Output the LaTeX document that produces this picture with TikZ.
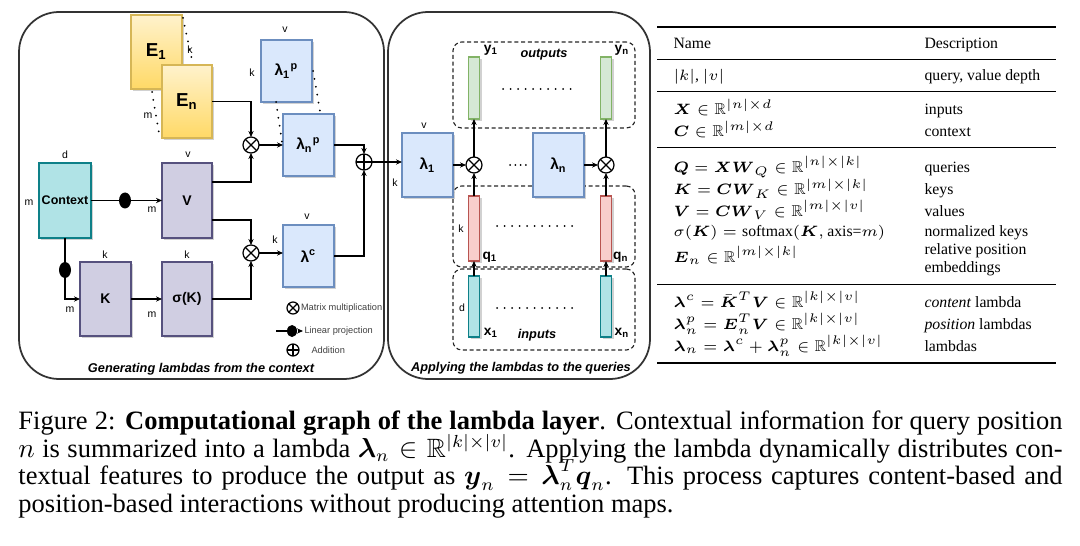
\documentclass[tikz,border=0pt]{standalone}
\usepackage{amsmath,amssymb}
\usepackage{fontspec}
\setmainfont{Liberation Serif}
\newfontfamily\arial{Liberation Sans}
\usetikzlibrary{arrows.meta,shadows,shapes.geometric}
\newcommand\pu{0.4pt}
\definecolor{eyl}{HTML}{FFF2CC}
\definecolor{eyd}{HTML}{FFD966}
\definecolor{eyb}{HTML}{D6B656}
\definecolor{lbf}{HTML}{DAE8FC}
\definecolor{lbd}{HTML}{6C8EBF}
\definecolor{ppf}{HTML}{D0CEE2}
\definecolor{ppd}{HTML}{56517E}
\definecolor{tlf}{HTML}{B0E3E6}
\definecolor{tld}{HTML}{0E8088}
\definecolor{grf}{HTML}{D5E8D4}
\definecolor{grd}{HTML}{82B366}
\definecolor{rdf}{HTML}{F8CECC}
\definecolor{rdd}{HTML}{B85450}
\definecolor{pnl}{HTML}{333333}
\begin{document}
\begin{tikzpicture}[x=0.4pt,y=-0.4pt,
  base/.style={draw, inner sep=0pt, outer sep=0pt, line width=0.45pt},
  shadowed/.style={drop shadow={shadow xshift=0.9pt,shadow yshift=-0.9pt,opacity=0.18,fill=black}},
  ebox/.style={base, shadowed, draw=eyb, top color=eyl, bottom color=eyd, font=\arial\bfseries\fontsize{7.5}{8}\selectfont},
  lbox/.style={base, shadowed, draw=lbd, fill=lbf, font=\arial\bfseries\fontsize{6.2}{7}\selectfont},
  pbox/.style={base, shadowed, draw=ppd, fill=ppf, font=\arial\bfseries\fontsize{5.6}{7}\selectfont},
  cbox/.style={base, shadowed, draw=tld, fill=tlf, font=\arial\bfseries\fontsize{5}{6}\selectfont},
  bar/.style={base, shadowed, minimum width=11*\pu},
  ybar/.style={bar, draw=grd, fill=grf},
  qbar/.style={bar, draw=rdd, fill=rdf},
  xbar/.style={bar, draw=tld, fill=tlf},
  conn/.style={line width=0.5pt, -{Stealth[length=2.4pt,width=2.1pt]}},
  lbl/.style={font=\arial\fontsize{4.2}{5}\selectfont, inner sep=0pt},
  blbl/.style={font=\arial\bfseries\fontsize{5.5}{6}\selectfont, inner sep=0pt},
  bilbl/.style={font=\arial\bfseries\itshape\fontsize{5.1}{6}\selectfont, inner sep=0pt},
  legtxt/.style={font=\arial\fontsize{3.7}{4.5}\selectfont, text=black!75, inner sep=0pt},
  dotln/.style={line width=0.8pt, line cap=round, dash pattern=on 0pt off 3.2pt},
  projdot/.style={ellipse, fill=black, inner sep=0pt, minimum width=12*\pu, minimum height=16*\pu},
  otimes/.style={circle, draw, line width=0.5pt, inner sep=0pt, outer sep=0pt, minimum size=16*\pu,
    path picture={\draw[line width=0.5pt] (path picture bounding box.north west)--(path picture bounding box.south east)
      (path picture bounding box.north east)--(path picture bounding box.south west);}},
  oplus/.style={circle, draw, line width=0.5pt, inner sep=0pt, outer sep=0pt, minimum size=16*\pu,
    path picture={\draw[line width=0.5pt] (path picture bounding box.north)--(path picture bounding box.south)
      (path picture bounding box.east)--(path picture bounding box.west);}},
  panel/.style={draw=pnl, line width=0.7pt, rounded corners=16pt, inner sep=0pt},
  dbox/.style={draw=black!85, line width=0.45pt, dash pattern=on 1.6pt off 1.1pt, rounded corners=3.5pt, inner sep=0pt},
  tbl/.style={font=\fontsize{6.3}{7.5}\selectfont, inner sep=0pt, anchor=base west},
  captxt/.style={font=\fontsize{10.6}{12}\selectfont, inner sep=0pt, anchor=base west}
]
\useasboundingbox (0,0) rectangle (1080,546);

% panels
\node[panel, minimum width=365*\pu, minimum height=367*\pu] (lpanel) at (201.5,195.5) {};
\node[panel, minimum width=262*\pu, minimum height=367*\pu] (mpanel) at (519,195.5) {};

% ---------------- left panel ----------------
\node[ebox, minimum width=51*\pu, minimum height=74*\pu] (E1) at (156.5,52) {E\textsubscript{1}};
\node[ebox, minimum width=50*\pu, minimum height=73*\pu] (En) at (187,101.5) {E\textsubscript{n}};
\coordinate (ed1) at (183,18); \coordinate (ed2) at (192,60);
\coordinate (ed3) at (152,92); \coordinate (ed4) at (159,133);
\draw[dotln] (ed1) -- (ed2);
\draw[dotln] (ed3) -- (ed4);
\node[lbl] (lk0) at (190,50) {k};
\node[lbl] (lm0) at (148,116) {m};

\node[lbox, minimum width=51*\pu, minimum height=62*\pu] (L1p) at (286.5,71) {λ\textsubscript{1}\textsuperscript{p}};
\node[lbox, minimum width=51*\pu, minimum height=62*\pu] (Lnp) at (308.5,145) {λ\textsubscript{n}\textsuperscript{p}};
\coordinate (ld1) at (313,71); \coordinate (ld2) at (320,111);
\coordinate (ld3) at (276,102); \coordinate (ld4) at (282,142);
\draw[dotln] (ld1) -- (ld2);
\draw[dotln] (ld3) -- (ld4);
\node[lbl] (lv1) at (285,30) {v};
\node[lbl] (lk1) at (252,73) {k};

\node[cbox, minimum width=52*\pu, minimum height=75*\pu] (Ctx) at (65,200.5) {Context};
\node[lbl] (ld) at (65,155) {d};
\node[lbl] (lmc) at (29,203) {m};
\node[pbox, minimum width=50*\pu, minimum height=75*\pu] (V) at (187,200.5) {V};
\node[lbl] (lvv) at (188,155) {v};
\node[lbl] (lmv) at (152,210) {m};
\node[pbox, minimum width=51*\pu, minimum height=74*\pu] (K) at (105.5,299) {K};
\node[lbl] (lkk) at (105,255) {k};
\node[lbl] (lmk) at (70,310) {m};
\node[pbox, minimum width=50*\pu, minimum height=74*\pu] (SK) at (187,299) {σ(K)};
\node[lbl] (lks) at (187,255) {k};
\node[lbl] (lms) at (152,315) {m};
\node[lbox, minimum width=51*\pu, minimum height=62*\pu] (Lc) at (308.5,256) {λ\textsuperscript{c}};
\node[lbl] (lvc) at (307,217) {v};
\node[lbl] (lkc) at (275,240) {k};

\node[otimes] (ot1) at (251,145) {};
\node[otimes] (ot2) at (251,253) {};
\node[oplus] (opl) at (364,162) {};

\coordinate (h182) at (0,182);
\coordinate (h220) at (0,220);
\draw[conn] (Ctx) -- (V);
\draw[conn] (Ctx.south) |- (K.west);
\node[projdot] (pd1) at (125,200.5) {};
\node[projdot] (pd2) at (65,270) {};
\draw[conn] (K) -- (SK);
\draw[conn] (En.east) -| (ot1.north);
\draw[conn] (V.east |- h182) -| (ot1.south);
\draw[conn] (V.east |- h220) -| (ot2.north);
\draw[conn] (SK.east) -| (ot2.south);
\draw[conn] (ot1) -- (Lnp);
\draw[conn] (ot2.east) -- (ot2.east -| Lc.west);
\draw[conn] (Lnp.east) -| (opl.north);
\draw[conn] (Lc.east) -| (opl.south);

% legend
\node[otimes, minimum size=12*\pu] (lg1) at (293,308) {};
\node[legtxt, anchor=west] (lg1t) at (300.5,308) {Matrix multiplication};
\coordinate (lgA) at (276,331);
\coordinate (lgB) at (303,331);
\node[projdot, minimum width=10*\pu, minimum height=12*\pu] (lg2) at (292,331) {};
\draw[line width=0.5pt] (lgA) -- (lg2);
\draw[conn] (lg2) -- (lgB);
\node[legtxt, anchor=west] (lg2t) at (304,331) {Linear projection};
\node[oplus, minimum size=12*\pu] (lg3) at (293,350) {};
\node[legtxt, anchor=west] (lg3t) at (311,350) {Addition};

\node[bilbl] (capL) at (201,369) {Generating lambdas from the context};

% ---------------- middle panel ----------------
\node[dbox, minimum width=182*\pu, minimum height=86*\pu] (outbox) at (544,85) {};
\node[dbox, minimum width=182*\pu, minimum height=81*\pu] (qbox) at (544,226.5) {};
\node[dbox, minimum width=182*\pu, minimum height=81*\pu] (inbox) at (544,309.5) {};

\node[lbox, minimum width=51*\pu, minimum height=64*\pu] (L1) at (427.5,165) {λ\textsubscript{1}};
\node[lbox, minimum width=51*\pu, minimum height=64*\pu] (Ln) at (558.5,165) {λ\textsubscript{n}};
\node[lbl] (lvl1) at (424,126) {v};
\node[lbl] (lkl1) at (395,183) {k};

\node[otimes] (ot3) at (474,165) {};
\node[otimes] (ot4) at (606,165) {};

\node[ybar, minimum height=62*\pu] (y1) at (474,88) {};
\node[ybar, minimum height=62*\pu] (yn) at (606,88) {};
\node[qbar, minimum height=65*\pu] (q1) at (474,228.5) {};
\node[qbar, minimum height=65*\pu] (qn) at (606,228.5) {};
\node[xbar, minimum height=61*\pu] (x1) at (474,306.5) {};
\node[xbar, minimum height=61*\pu] (xn) at (606,306.5) {};

\node[blbl] (ty1) at (491,50) {y\textsubscript{1}};
\node[blbl] (tyn) at (622,50) {y\textsubscript{n}};
\node[blbl] (tq1) at (490,257) {q\textsubscript{1}};
\node[blbl] (tqn) at (621,257) {q\textsubscript{n}};
\node[blbl] (tx1) at (491,333) {x\textsubscript{1}};
\node[blbl] (txn) at (622,333) {x\textsubscript{n}};
\node[bilbl] (tout) at (544,55) {outputs};
\node[bilbl] (tin) at (537,335) {inputs};
\node[lbl] (lkq) at (461,229) {k};
\node[lbl] (ldx) at (462,308) {d};

\coordinate (dA) at (503,89); \coordinate (dB) at (578,89);
\coordinate (dC) at (497,226); \coordinate (dD) at (573,226);
\coordinate (dE) at (497,308); \coordinate (dF) at (573,308);
\coordinate (dG) at (510,165); \coordinate (dH) at (526,165);
\draw[dotln, dash pattern=on 0pt off 3pt] (dA) -- (dB);
\draw[dotln, dash pattern=on 0pt off 3pt] (dC) -- (dD);
\draw[dotln, dash pattern=on 0pt off 3pt] (dE) -- (dF);
\draw[dotln, dash pattern=on 0pt off 2.1pt] (dG) -- (dH);

\draw[conn] (opl.east) -- (opl.east -| L1.west);
\draw[conn] (L1) -- (ot3);
\draw[conn] (Ln) -- (ot4);
\draw[conn] (ot3) -- (y1);
\draw[conn] (ot4) -- (yn);
\draw[conn] (q1) -- (ot3);
\draw[conn] (qn) -- (ot4);
\draw[conn] (x1) -- (q1);
\draw[conn] (xn) -- (qn);

\node[bilbl] (capM) at (521,368) {Applying the lambdas to the queries};

% ---------------- table ----------------
\coordinate (r0a) at (657,27);  \coordinate (r0b) at (1056,27);
\coordinate (r1a) at (657,60);  \coordinate (r1b) at (1056,60);
\coordinate (r2a) at (657,92);  \coordinate (r2b) at (1056,92);
\coordinate (r3a) at (657,148); \coordinate (r3b) at (1056,148);
\coordinate (r4a) at (657,284); \coordinate (r4b) at (1056,284);
\coordinate (r5a) at (657,363); \coordinate (r5b) at (1056,363);
\draw[line width=0.8pt] (r0a) -- (r0b);
\draw[line width=0.4pt] (r1a) -- (r1b);
\draw[line width=0.4pt] (r2a) -- (r2b);
\draw[line width=0.4pt] (r3a) -- (r3b);
\draw[line width=0.4pt] (r4a) -- (r4b);
\draw[line width=0.8pt] (r5a) -- (r5b);

\node[tbl] (tn) at (673,49) {Name};
\node[tbl] (td) at (924,49) {Description};
\node[tbl] (a1) at (673,81) {$|k|$, $|v|$};
\node[tbl] (b1) at (924,81) {query, value depth};
\node[tbl] (a2) at (673,115) {$\boldsymbol{X}\in\mathbb{R}^{|n|\times d}$};
\node[tbl] (b2) at (924,115) {inputs};
\node[tbl] (a3) at (673,137) {$\boldsymbol{C}\in\mathbb{R}^{|m|\times d}$};
\node[tbl] (b3) at (924,137) {context};
\node[tbl] (a4) at (673,172) {$\boldsymbol{Q}=\boldsymbol{X}\boldsymbol{W}_Q\in\mathbb{R}^{|n|\times|k|}$};
\node[tbl] (b4) at (924,172) {queries};
\node[tbl] (a5) at (673,195) {$\boldsymbol{K}=\boldsymbol{C}\boldsymbol{W}_K\in\mathbb{R}^{|m|\times|k|}$};
\node[tbl] (b5) at (924,195) {keys};
\node[tbl] (a6) at (673,216) {$\boldsymbol{V}=\boldsymbol{C}\boldsymbol{W}_V\in\mathbb{R}^{|m|\times|v|}$};
\node[tbl] (b6) at (924,216) {values};
\node[tbl] (a7) at (673,236) {$\sigma(\boldsymbol{K})=\text{softmax}(\boldsymbol{K},\text{axis=}m)$};
\node[tbl] (b7) at (924,236) {normalized keys};
\node[tbl] (a8) at (673,262) {$\boldsymbol{E}_n\in\mathbb{R}^{|m|\times|k|}$};
\node[tbl] (b8) at (924,254) {relative position};
\node[tbl] (b8b) at (924,272) {embeddings};
\node[tbl] (a9) at (673,307) {$\boldsymbol{\lambda}^c=\bar{\boldsymbol{K}}^T\boldsymbol{V}\in\mathbb{R}^{|k|\times|v|}$};
\node[tbl] (b9) at (924,307) {\textit{content} lambda};
\node[tbl] (a10) at (673,329) {$\boldsymbol{\lambda}^p_n=\boldsymbol{E}_n^T\boldsymbol{V}\in\mathbb{R}^{|k|\times|v|}$};
\node[tbl] (b10) at (924,329) {\textit{position} lambdas};
\node[tbl] (a11) at (673,351) {$\boldsymbol{\lambda}_n=\boldsymbol{\lambda}^c+\boldsymbol{\lambda}^p_n\in\mathbb{R}^{|k|\times|v|}$};
\node[tbl] (b11) at (924,351) {lambdas};

% ---------------- caption ----------------
\node[captxt] (c1) at (18,429) {\makebox[417.6pt][s]{Figure 2: \textbf{Computational graph of the lambda layer}. Contextual information for query position}};
\node[captxt] (c2) at (18,457) {\makebox[417.6pt][s]{$n$ is summarized into a lambda $\boldsymbol{\lambda}_n\in\mathbb{R}^{|k|\times|v|}$. Applying the lambda dynamically distributes con-}};
\node[captxt] (c3) at (18,484) {\makebox[417.6pt][s]{textual features to produce the output as $\boldsymbol{y}_n=\boldsymbol{\lambda}_n^T\boldsymbol{q}_n$. This process captures content-based and}};
\node[captxt] (c4) at (18,512) {position-based interactions without producing attention maps.};
\end{tikzpicture}
\end{document}
